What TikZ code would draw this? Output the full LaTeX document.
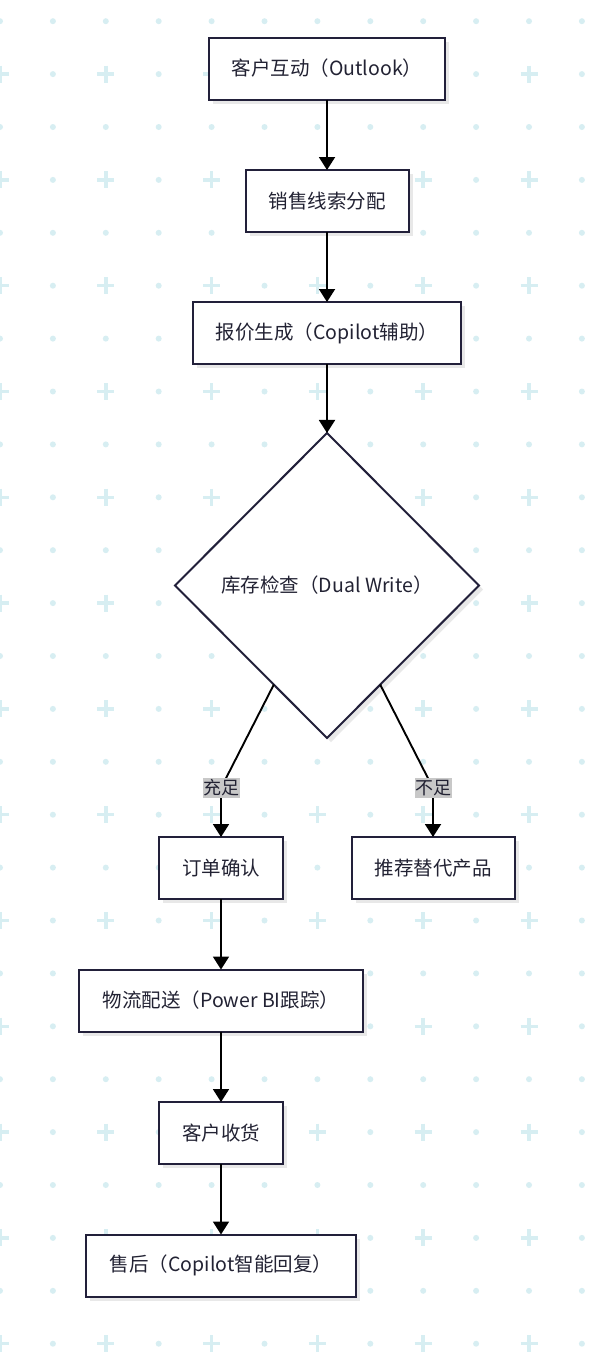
\documentclass[tikz,border=0pt]{standalone}
\usepackage{fontspec}
\setmainfont{Noto Sans CJK SC}
\usetikzlibrary{arrows.meta,positioning,shapes.geometric,shadows,calc}
\definecolor{flowink}{HTML}{22203A}
\definecolor{flowtext}{HTML}{222233}
\definecolor{gridcyan}{HTML}{D7EEF2}
\definecolor{lblgray}{HTML}{C8C8C8}

\begin{document}
\begin{tikzpicture}[x=1pt, y=-1pt, node distance=70.5pt,
      stepbox/.style={draw=flowink, line width=2pt, fill=white, minimum height=62pt, outer sep=0pt,
                  inner xsep=23pt, inner ysep=0pt, text=flowtext, font=\fontsize{19.5}{23}\selectfont,
                  drop shadow={shadow xshift=4pt, shadow yshift=-4pt, fill=black!9, opacity=1}},
      check/.style={diamond, aspect=1, draw=flowink, line width=2pt, fill=white, outer sep=0pt,
                  minimum width=304pt, minimum height=305pt, inner sep=0pt, text=flowtext,
                  font=\fontsize{19.5}{23}\selectfont,
                  drop shadow={shadow xshift=4pt, shadow yshift=-4pt, fill=black!9, opacity=1}},
      lbl/.style={fill=lblgray, inner xsep=0.5pt, inner ysep=2pt, text=flowtext, font=\fontsize{18}{20}\selectfont},
      arr/.style={-{Triangle[length=13pt,width=16pt]}, line width=1.9pt, black}]
    \useasboundingbox (0,0) rectangle (612,1352);
    \fill[white] (0,0) rectangle (612,1352);
    % dotted grid with crosses
    \foreach \r in {0,...,25}
      \foreach \c in {0,...,11} {
        \pgfmathtruncatemacro\isplus{mod(\r,2)*(1-mod(\c,2))}
        \ifnum\isplus=1
          \draw[gridcyan, line width=3.5pt] (52.9*\c-8.5,21.2+52.9*\r) -- ++(17,0)
                                            (52.9*\c,21.2+52.9*\r-8.5) -- ++(0,17);
        \else
          \fill[gridcyan] (52.9*\c,21.2+52.9*\r) circle (3pt);
        \fi
      }
    \node[stepbox, minimum width=236pt] (contact) at (327,68.5) {客户互动（Outlook）};
    \node[stepbox, below=of contact] (lead) {销售线索分配};
    \node[stepbox, below=70pt of lead, minimum width=268pt] (quote) {报价生成（Copilot辅助）};
    \node[check, below=69pt of quote] (stock) {库存检查（Dual Write）};
    \node[stepbox, below=99pt of stock, xshift=-106pt] (confirm) {订单确认};
    \node[stepbox, below=99pt of stock, xshift=106pt] (alt) {推荐替代产品};
    \node[stepbox, below=of confirm, minimum width=284pt] (ship) {物流配送（Power BI跟踪）};
    \node[stepbox, below=of ship] (recv) {客户收货};
    \node[stepbox, below=of recv, minimum width=270pt] (after) {售后（Copilot智能回复）};
    \coordinate[above=49pt of confirm.north] (okbend);
    \coordinate[above=49pt of alt.north] (nobend);
    \draw[arr] (contact) -- (lead); \draw[arr] (lead) -- (quote); \draw[arr] (quote) -- (stock);
    \draw[arr] ($(stock.west)!0.65!(stock.south)$) -- (okbend) node[lbl] {充足} -- (confirm);
    \draw[arr] ($(stock.east)!0.65!(stock.south)$) -- (nobend) node[lbl] {不足} -- (alt);
    \draw[arr] (confirm) -- (ship); \draw[arr] (ship) -- (recv); \draw[arr] (recv) -- (after);
  \end{tikzpicture}
\end{document}
